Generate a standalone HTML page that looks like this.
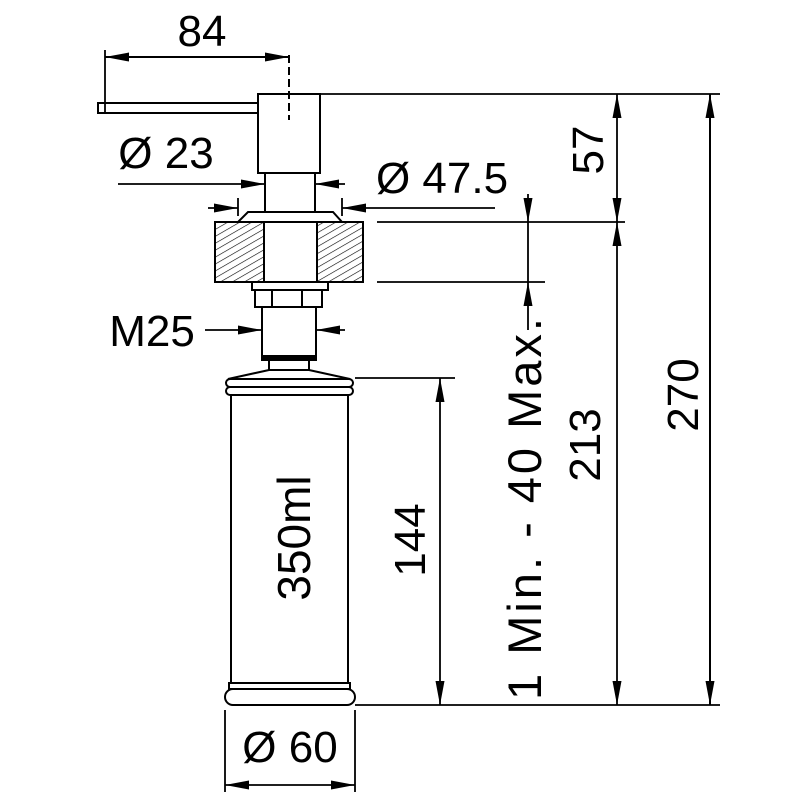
<!DOCTYPE html>
<html><head><style>body{margin:0;background:#fff}svg{display:block}</style></head><body>
<svg width="800" height="800" viewBox="0 0 800 800" xmlns="http://www.w3.org/2000/svg" font-family="Liberation Sans, Arial, sans-serif">
<defs>
<pattern id="h" width="6" height="6" patternUnits="userSpaceOnUse" patternTransform="rotate(60)">
<line x1="0" y1="0" x2="0" y2="6" stroke="#000" stroke-width="1.2"/>
</pattern>
<marker id="a" viewBox="0 0 24 9" refX="24" refY="4.5" markerWidth="24" markerHeight="9" markerUnits="userSpaceOnUse" orient="auto-start-reverse">
<path d="M0,0 L24,4.5 L0,9z" fill="#000"/></marker>
</defs>
<g stroke="#000" fill="none" stroke-width="2">
<rect x="98" y="103" width="160" height="10" fill="#fff"/>
<rect x="258" y="94" width="62" height="79" fill="#fff"/>
<line x1="289" y1="55" x2="289" y2="120" stroke-dasharray="8,4"/>
<rect x="265" y="173" width="50" height="39"/>
<path d="M248,212 L333,212 L342,222 L238,222z" fill="#fff"/>
<rect x="215" y="222" width="49" height="60" fill="url(#h)"/>
<rect x="317" y="222" width="46" height="60" fill="url(#h)"/>
<rect x="264" y="222" width="53" height="60" fill="#fff"/>
<rect x="252" y="282" width="76" height="8"/>
<rect x="255" y="290" width="67" height="17"/>
<line x1="272" y1="290" x2="272" y2="307"/><line x1="302" y1="290" x2="302" y2="307"/>
<rect x="262" y="307" width="54" height="51"/>
<rect x="262" y="356" width="54" height="4" fill="#000"/>
<rect x="269" y="360" width="40" height="10"/>
<path d="M269,370 L309,370 L350,379 L228,379z"/>
<rect x="226" y="379" width="127" height="8" rx="4"/>
<rect x="226" y="387" width="127" height="8" rx="4"/>
<rect x="231" y="395" width="117" height="288"/>
<rect x="229" y="683" width="121" height="6"/>
<rect x="225" y="689" width="130" height="16" rx="8"/>
</g>
<g stroke="#000" stroke-width="1.8" fill="none">
<line x1="105" y1="50" x2="105" y2="113"/>
<line x1="320" y1="94" x2="720" y2="94"/>
<line x1="377" y1="222" x2="625" y2="222"/>
<line x1="377" y1="282" x2="545" y2="282"/>
<line x1="355" y1="378" x2="455" y2="378"/>
<line x1="355" y1="705" x2="720" y2="705"/>
<line x1="225" y1="710" x2="225" y2="792"/>
<line x1="355" y1="710" x2="355" y2="792"/>
<line x1="238" y1="198" x2="238" y2="216"/>
<line x1="342" y1="198" x2="342" y2="216"/>
<line x1="105" y1="57" x2="289" y2="57" marker-start="url(#a)" marker-end="url(#a)" stroke-width="2"/>
<line x1="118" y1="184" x2="265" y2="184" marker-end="url(#a)"/>
<line x1="345" y1="184" x2="315" y2="184" marker-end="url(#a)"/>
<line x1="208" y1="208" x2="238" y2="208" marker-end="url(#a)"/>
<line x1="495" y1="208" x2="342" y2="208" marker-end="url(#a)"/>
<line x1="205" y1="330" x2="262" y2="330" marker-end="url(#a)"/>
<line x1="345" y1="330" x2="316" y2="330" marker-end="url(#a)"/>
<line x1="528" y1="194" x2="528" y2="222" marker-end="url(#a)"/>
<line x1="528" y1="222" x2="528" y2="282"/>
<line x1="528" y1="330" x2="528" y2="282" marker-end="url(#a)"/>
<line x1="617" y1="94" x2="617" y2="222" marker-start="url(#a)" marker-end="url(#a)"/>
<line x1="617" y1="222" x2="617" y2="705" marker-start="url(#a)" marker-end="url(#a)"/>
<line x1="710" y1="94" x2="710" y2="705" marker-start="url(#a)" marker-end="url(#a)" stroke-width="2"/>
<line x1="440" y1="378" x2="440" y2="705" marker-start="url(#a)" marker-end="url(#a)"/>
<line x1="225" y1="785" x2="355" y2="785" marker-start="url(#a)" marker-end="url(#a)"/>
</g>
<g font-size="44" fill="#000">
<text x="202" y="46" text-anchor="middle">84</text>
<text x="166" y="168" text-anchor="middle">Ø 23</text>
<text x="442" y="193" text-anchor="middle">Ø 47.5</text>
<text x="152" y="346" text-anchor="middle">M25</text>
<text x="290" y="762" text-anchor="middle">Ø 60</text>
<text transform="translate(603,150) rotate(-90)" text-anchor="middle">57</text>
<text transform="translate(541,509) rotate(-90)" text-anchor="middle" font-size="47" textLength="382" lengthAdjust="spacing">1 Min. - 40 Max.</text>
<text transform="translate(600,445) rotate(-90)" text-anchor="middle">213</text>
<text transform="translate(698,395) rotate(-90)" text-anchor="middle">270</text>
<text transform="translate(425,540) rotate(-90)" text-anchor="middle">144</text>
<text transform="translate(310,538) rotate(-90)" text-anchor="middle" font-size="46">350ml</text>
</g>
</svg>
</body></html>
